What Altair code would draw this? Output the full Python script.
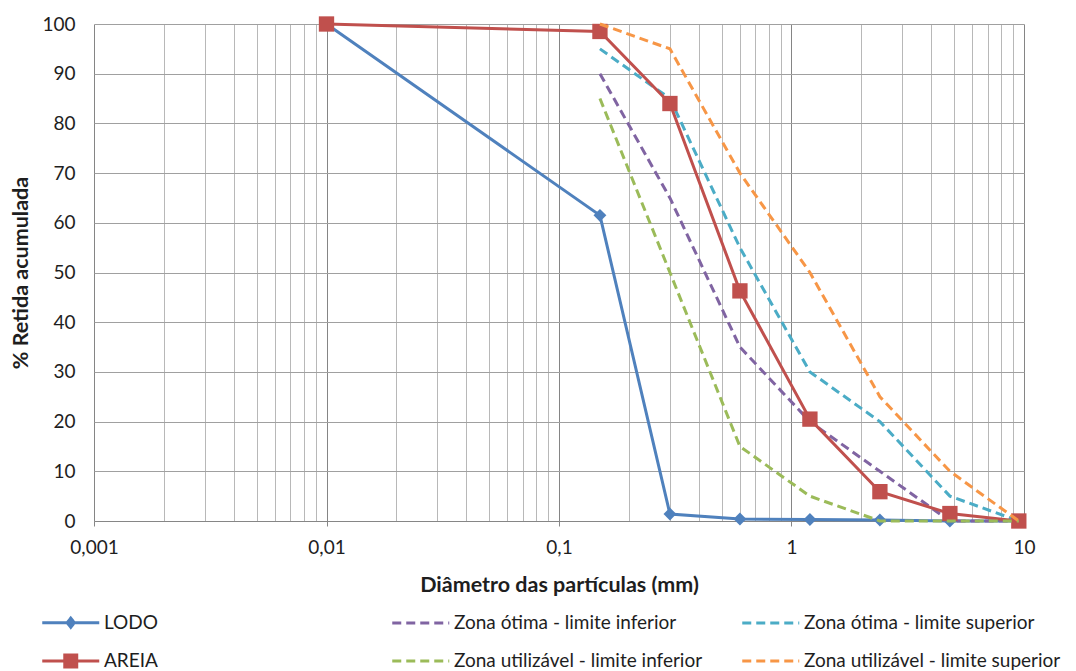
import altair as alt
import pandas as pd

# ---------------- data ----------------
series_names = [
    "LODO",
    "Zona ótima - limite inferior",
    "Zona ótima - limite superior",
    "AREIA",
    "Zona utilizável - limite inferior",
    "Zona utilizável - limite superior",
]
series_colors = ["#4F81BD", "#8064A2", "#4BACC6", "#C0504D", "#9BBB59", "#F79646"]
legend_order = [
    "LODO",
    "AREIA",
    "Zona ótima - limite inferior",
    "Zona utilizável - limite inferior",
    "Zona ótima - limite superior",
    "Zona utilizável - limite superior",
]

diam_solid = [0.01, 0.15, 0.3, 0.6, 1.2, 2.4, 4.8, 9.5]
lodo = [100, 61.5, 1.4, 0.4, 0.3, 0.2, 0, 0]
areia = [100, 98.5, 84, 46.3, 20.5, 5.9, 1.5, 0]

diam_zona = [0.15, 0.3, 0.6, 1.2, 2.4, 4.8, 9.5]
otima_inf = [90, 65, 35, 20, 10, 0, 0]
otima_sup = [95, 85, 55, 30, 20, 5, 0]
util_inf = [85, 50, 15, 5, 0, 0, 0]
util_sup = [100, 95, 70, 50, 25, 10, 0]

y_ticks = list(range(0, 101, 10))
x_ticks = [m * 10.0 ** e for e in range(-3, 1) for m in range(1, 10)] + [10]

series_values = {
    "LODO": (diam_solid, lodo),
    "Zona ótima - limite inferior": (diam_zona, otima_inf),
    "Zona ótima - limite superior": (diam_zona, otima_sup),
    "AREIA": (diam_solid, areia),
    "Zona utilizável - limite inferior": (diam_zona, util_inf),
    "Zona utilizável - limite superior": (diam_zona, util_sup),
}
rows = []
for name in series_names:
    xs, ys = series_values[name]
    for d, p in zip(xs, ys):
        rows.append({"serie": name, "d": d, "p": p})
df = pd.DataFrame(rows)

# ---------------- style ----------------
FONT = "Lato"
TXT = "#1E1E1E"
DASH = [9, 5]
color_of = dict(zip(series_names, series_colors))
dashed = {"Zona ótima - limite inferior", "Zona ótima - limite superior",
          "Zona utilizável - limite inferior", "Zona utilizável - limite superior"}
markers = {"LODO": ("diamond", 165), "AREIA": ("square", 235)}

# legend symbol paths: line from -3..1, marker centred at -1 (unit = 14.25 px)
R = 14.25
def diamond_path(w, h):
    parts = ["M-3,0H1"]
    for k in (1.0, 0.55, 0.15):
        parts.append(f"M-1,{-h*k:.3f}L{-1+w*k:.3f},0L-1,{h*k:.3f}L{-1-w*k:.3f},0Z")
    return "".join(parts)

def square_path(s):
    parts = ["M-3,0H1"]
    for k in (1.0, 0.6, 0.25):
        a = s * k
        parts.append(f"M{-1-a:.3f},{-a:.3f}H{-1+a:.3f}V{a:.3f}H{-1-a:.3f}Z")
    return "".join(parts)

shape_range = []
dash_range = []
for name in legend_order:
    if name == "LODO":
        shape_range.append(diamond_path(0.25, 0.32))
    elif name == "AREIA":
        shape_range.append(square_path(0.42))
    else:
        shape_range.append("M-3,0H1")
    dash_range.append(DASH if name in dashed else [1, 0])
legend_colors = [color_of[n] for n in legend_order]

dec_test = "abs(log(datum.value)/LN10 - round(log(datum.value)/LN10)) < 0.001"

xaxis = alt.Axis(
    values=x_ticks,
    labelExpr=f"({dec_test}) ? replace(toString(datum.value), '.', ',') : ''",
    labelOverlap=False,
    labelFlush=False,
    gridColor={"condition": {"test": dec_test, "value": "#858585"}, "value": "#B8B8B8"},
    tickColor={"condition": {"test": dec_test, "value": "#868686"}, "value": "transparent"},
    tickSize=5,
    domainColor="#868686",
    labelPadding=12,
    titlePadding=17,
    titleFontWeight="bold",
)
yaxis = alt.Axis(
    values=y_ticks,
    ticks=False,
    domain=False,
    gridColor="#A0A0A0",
    labelPadding=19,
    titlePadding=9,
    titleFontWeight="bold",
)

X = alt.X("d:Q", scale=alt.Scale(type="log", domain=[0.001, 10], nice=False),
          axis=xaxis, title="Diâmetro das partículas (mm)")
Y = alt.Y("p:Q", scale=alt.Scale(domain=[0, 100], nice=False),
          axis=yaxis, title="% Retida acumulada")

layers = []
for name, color in zip(series_names, series_colors):
    base = alt.Chart(df).transform_filter(alt.datum.serie == name)
    if name in dashed:
        line = base.mark_line(color=color, strokeWidth=3, strokeDash=DASH)
    else:
        line = base.mark_line(color=color, strokeWidth=3)
    layers.append(line.encode(x=X, y=Y))
    if name in markers:
        shp, sz = markers[name]
        layers.append(
            base.mark_point(filled=True, shape=shp, size=sz, color=color, opacity=1)
            .encode(x=X, y=Y)
        )

legend = alt.Legend(
    title=None,
    orient="none",
    legendX=-25,
    legendY=582,
    columns=3,
    gridAlign="all",
    columnPadding=25,
    rowPadding=11,
    symbolSize=(2 * R) ** 2,
    symbolStrokeWidth=3,
    symbolOpacity=1,
    symbolFillColor="transparent",
    labelFont=FONT,
    labelFontSize=19,
    labelColor=TXT,
    labelOffset=3,
    labelLimit=400,
    padding=0,
)

carrier = alt.Chart(df).mark_point(opacity=0, filled=False).encode(
    x=X,
    y=Y,
    color=alt.Color("serie:N", scale=alt.Scale(domain=legend_order, range=legend_colors), legend=legend),
    shape=alt.Shape("serie:N", scale=alt.Scale(domain=legend_order, range=shape_range), legend=legend),
    strokeDash=alt.StrokeDash("serie:N", scale=alt.Scale(domain=legend_order, range=dash_range), legend=legend),
)
layers.append(carrier)

chart = (
    alt.layer(*layers)
    .properties(
        width=930,
        height=497,
        padding={"left": 86, "top": 16, "right": 44, "bottom": 150},
        autosize=alt.AutoSizeParams(type="none"),
        background="white",
    )
    .configure_view(stroke=None)
    .configure_axis(
        labelFont=FONT,
        titleFont=FONT,
        labelFontSize=19,
        titleFontSize=21.5,
        labelColor=TXT,
        titleColor=TXT,
        gridWidth=1,
        gridOpacity=1,
    )
)

chart.save("out.html", embed_options={"renderer": "svg", "actions": False})
